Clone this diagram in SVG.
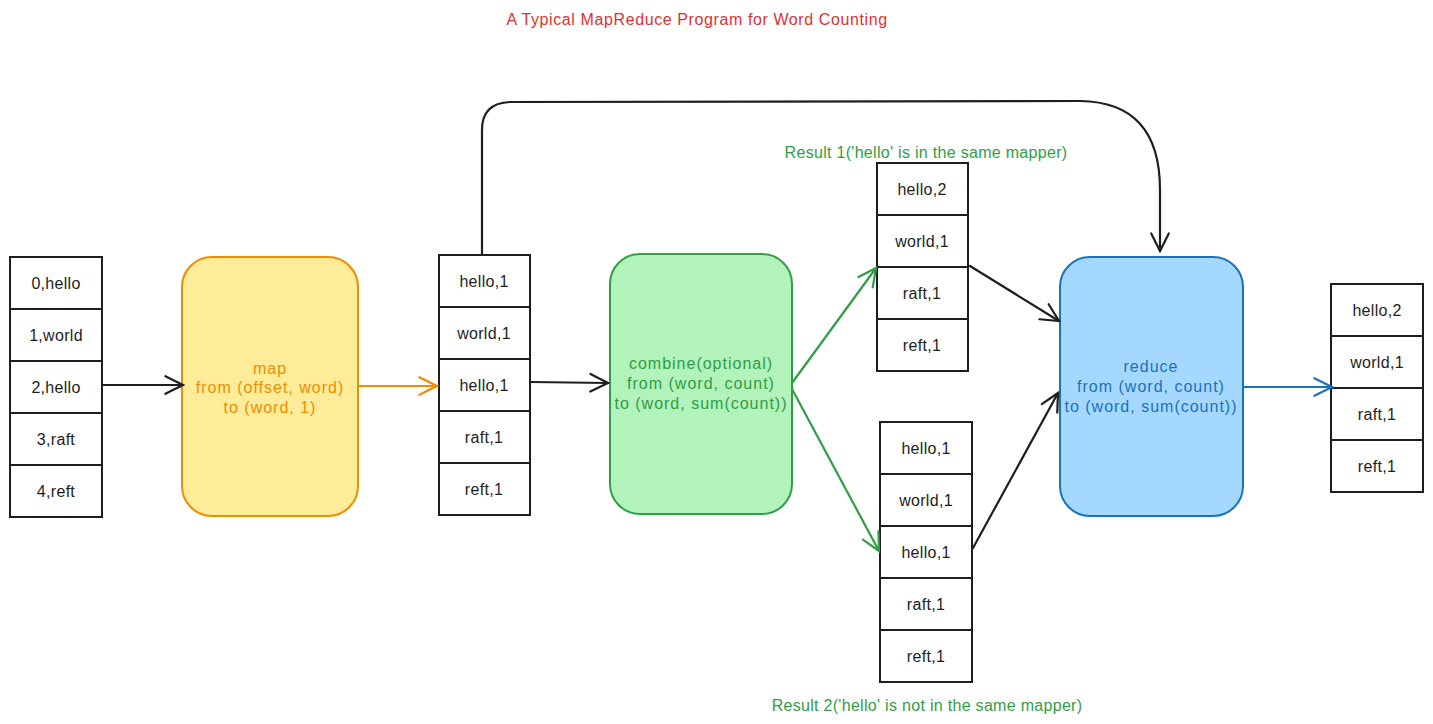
<svg xmlns="http://www.w3.org/2000/svg" width="1433" height="724" viewBox="0 0 1433 724">
<defs>
<marker id="ahk" viewBox="0 0 20 20" refX="18" refY="10" markerWidth="22" markerHeight="22" markerUnits="userSpaceOnUse" orient="auto">
<path d="M2,2 L18,10 L2,18" fill="none" stroke="#1e1e1e" stroke-width="2" stroke-linecap="round"/>
</marker>
<marker id="aho" viewBox="0 0 20 20" refX="18" refY="10" markerWidth="22" markerHeight="22" markerUnits="userSpaceOnUse" orient="auto">
<path d="M2,2 L18,10 L2,18" fill="none" stroke="#f08c00" stroke-width="2" stroke-linecap="round"/>
</marker>
<marker id="ahg" viewBox="0 0 20 20" refX="18" refY="10" markerWidth="22" markerHeight="22" markerUnits="userSpaceOnUse" orient="auto">
<path d="M2,2 L18,10 L2,18" fill="none" stroke="#2f9e44" stroke-width="2" stroke-linecap="round"/>
</marker>
<marker id="ahb" viewBox="0 0 20 20" refX="18" refY="10" markerWidth="22" markerHeight="22" markerUnits="userSpaceOnUse" orient="auto">
<path d="M2,2 L18,10 L2,18" fill="none" stroke="#1971c2" stroke-width="2" stroke-linecap="round"/>
</marker>
</defs>
<style>
text{font-family:"Liberation Sans","Open Sans",sans-serif;text-anchor:middle;dominant-baseline:central}
.cell rect{fill:#ffffff;stroke:#1e1e1e;stroke-width:2}
.cell text{font-size:16px;fill:#1e1e1e;letter-spacing:0.3px}
.big text{font-size:16px;letter-spacing:1px}
.lbl{font-size:16px;letter-spacing:0.3px;fill:#2f9e44}
.conn path{fill:none;stroke-width:2.2;stroke-linecap:round}
</style>
<rect width="1433" height="724" fill="#ffffff"/>
<text id="title" x="697" y="19" font-size="16" letter-spacing="0.6" fill="#e03131">A Typical MapReduce Program for Word Counting</text>

<g id="input" class="cell">
<rect x="10" y="257" width="92" height="52"/><text x="56" y="283">0,hello</text>
<rect x="10" y="309" width="92" height="52"/><text x="56" y="335">1,world</text>
<rect x="10" y="361" width="92" height="52"/><text x="56" y="387">2,hello</text>
<rect x="10" y="413" width="92" height="52"/><text x="56" y="439">3,raft</text>
<rect x="10" y="465" width="92" height="52"/><text x="56" y="491">4,reft</text>
</g>

<g id="map" class="big">
<rect x="182" y="257" width="176" height="259" rx="30" fill="#ffec99" stroke="#f08c00" stroke-width="2"/>
<text x="270" y="368" fill="#f08c00">map</text>
<text x="270" y="387" fill="#f08c00">from (offset, word)</text>
<text x="270" y="407" fill="#f08c00">to (word, 1)</text>
</g>

<g id="mapped" class="cell">
<rect x="439" y="255" width="91" height="52"/><text x="484" y="281">hello,1</text>
<rect x="439" y="307" width="91" height="52"/><text x="484" y="333">world,1</text>
<rect x="439" y="359" width="91" height="52"/><text x="484" y="385">hello,1</text>
<rect x="439" y="411" width="91" height="52"/><text x="484" y="437">raft,1</text>
<rect x="439" y="463" width="91" height="52"/><text x="484" y="489">reft,1</text>
</g>

<g id="combine" class="big">
<rect x="610" y="254" width="182" height="260" rx="30" fill="#b2f2bb" stroke="#2f9e44" stroke-width="2"/>
<text x="701" y="363" fill="#2f9e44">combine(optional)</text>
<text x="701" y="383" fill="#2f9e44">from (word, count)</text>
<text x="701" y="403" fill="#2f9e44">to (word, sum(count))</text>
</g>

<text id="result1-label" class="lbl" x="926" y="152">Result 1('hello' is in the same mapper)</text>
<g id="result1" class="cell">
<rect x="877" y="163" width="91" height="52"/><text x="922" y="189">hello,2</text>
<rect x="877" y="215" width="91" height="52"/><text x="922" y="241">world,1</text>
<rect x="877" y="267" width="91" height="52"/><text x="922" y="293">raft,1</text>
<rect x="877" y="319" width="91" height="52"/><text x="922" y="345">reft,1</text>
</g>

<g id="result2" class="cell">
<rect x="880" y="422" width="92" height="52"/><text x="926" y="448">hello,1</text>
<rect x="880" y="474" width="92" height="52"/><text x="926" y="500">world,1</text>
<rect x="880" y="526" width="92" height="52"/><text x="926" y="552">hello,1</text>
<rect x="880" y="578" width="92" height="52"/><text x="926" y="604">raft,1</text>
<rect x="880" y="630" width="92" height="52"/><text x="926" y="656">reft,1</text>
</g>
<text id="result2-label" class="lbl" x="927" y="705">Result 2('hello' is not in the same mapper)</text>

<g id="reduce" class="big">
<rect x="1060" y="257" width="183" height="259" rx="30" fill="#a5d8ff" stroke="#1971c2" stroke-width="2"/>
<text x="1151" y="366" fill="#1971c2">reduce</text>
<text x="1151" y="386" fill="#1971c2">from (word, count)</text>
<text x="1151" y="406" fill="#1971c2">to (word, sum(count))</text>
</g>

<g id="output" class="cell">
<rect x="1331" y="284" width="92" height="52"/><text x="1377" y="310">hello,2</text>
<rect x="1331" y="336" width="92" height="52"/><text x="1377" y="362">world,1</text>
<rect x="1331" y="388" width="92" height="52"/><text x="1377" y="414">raft,1</text>
<rect x="1331" y="440" width="92" height="52"/><text x="1377" y="466">reft,1</text>
</g>

<g id="connectors" class="conn">
<path d="M103,385 L183,385" stroke="#1e1e1e" marker-end="url(#ahk)"/>
<path d="M359,386 L437,386" stroke="#f08c00" marker-end="url(#aho)"/>
<path d="M531,382 L608,383" stroke="#1e1e1e" marker-end="url(#ahk)"/>
<path d="M792,383 L876,268" stroke="#2f9e44" marker-end="url(#ahg)"/>
<path d="M792,389 L879,551" stroke="#2f9e44" marker-end="url(#ahg)"/>
<path d="M970,266 L1059,321" stroke="#1e1e1e" marker-end="url(#ahk)"/>
<path d="M973,548 L1058,393" stroke="#1e1e1e" marker-end="url(#ahk)"/>
<path d="M1244,387 L1332,387" stroke="#1971c2" marker-end="url(#ahb)"/>
<path d="M482,255 L482,130 Q482,103 510,102 L1080,101 Q1160,102 1160,190 L1160,251" stroke="#1e1e1e" marker-end="url(#ahk)"/>
</g>
</svg>
